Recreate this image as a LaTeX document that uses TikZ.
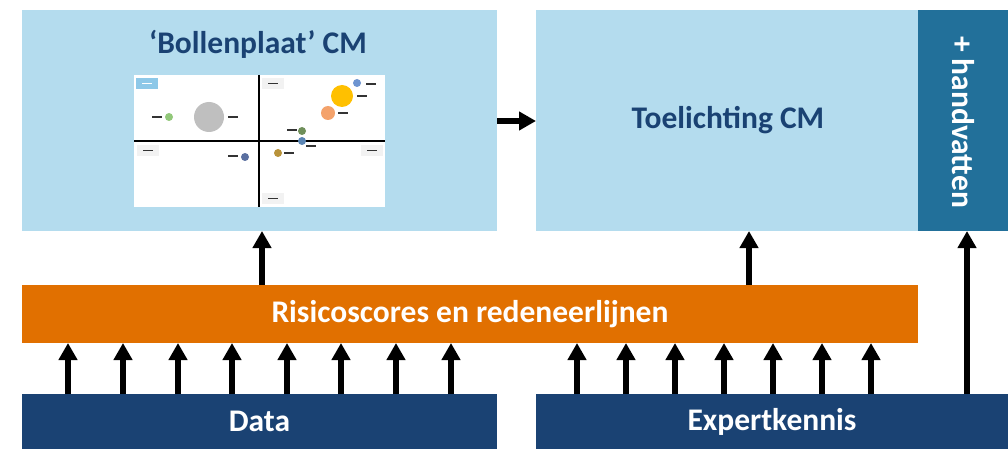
\documentclass[tikz,border=0pt]{standalone}
\usepackage{fontspec}
\setmainfont{Carlito}
\usetikzlibrary{arrows.meta}
\definecolor{lichtblauw}{HTML}{B4DCEE}
\definecolor{donkerblauw}{HTML}{1A4273}
\definecolor{petrol}{HTML}{22709A}
\definecolor{oranje}{HTML}{E17000}
\definecolor{legenda}{HTML}{8DC8E8}
\definecolor{grijs}{HTML}{F2F2F2}
\begin{document}
\begin{tikzpicture}[x=1pt,y=-1pt,line join=round,
 blok/.style={anchor=north west,inner sep=0pt,outer sep=0pt,font=\fontsize{31.5}{36}\selectfont\bfseries},
 pijl/.style={-{Triangle[width=18pt,length=17pt]},line width=5.5pt},
 streep/.style={line width=1.6pt,draw=black!80}]
 \def \xmin{0}\def \xmax{1008}\def \ymin{0}\def \ymax{449}
 \useasboundingbox[fill=white] (\xmin,\ymin) rectangle (\xmax,\ymax);
 \node[blok,fill=lichtblauw,minimum width=475pt,minimum height=221pt] (cm) at (22,10) {};
 \node[blok,fill=lichtblauw,minimum width=382pt,minimum height=221pt] (toel) at (536,10) {};
 \node[blok,anchor=center,text=donkerblauw] (toeltekst) at (728,120) {Toelichting CM};
 \node[blok,fill=petrol,minimum width=90pt,minimum height=221pt] (hand) at (918,10) {};
 \node[blok,anchor=center,text=white,rotate=-90] (handtekst) at (963,122) {+ handvatten};
 \node[blok,anchor=center,text=donkerblauw] (titel) at (258,44) {‘Bollenplaat’ CM};
 \node[blok,fill=oranje,minimum width=896pt,minimum height=58pt,text=white] (risico) at (22,285) {Risicoscores en redeneerlijnen};
 \node[blok,fill=donkerblauw,minimum width=475pt,minimum height=55pt,text=white] (data) at (22,394) {Data};
 \node[blok,fill=donkerblauw,minimum width=472pt,minimum height=55pt,text=white] (expert) at (536,394) {Expertkennis};
 \node[blok,fill=white,minimum width=251pt,minimum height=132pt] (plot) at (134,75) {};
 \draw[line width=1.6pt] (plot.north -| 259,0) -- (plot.south -| 259,0) (plot.west |- 0,141) -- (plot.east |- 0,141);
 \fill[legenda] (136,78) rectangle ++(22,11);
 \draw[line width=1.6pt,white] (142,83.5) -- ++(10,0);
 \foreach \x/\y in {262/78,137/145,361/145,262/193}
  {\fill[grijs] (\x,\y) rectangle ++(22,11);
   \draw[streep] (\x+6,\y+5.5) -- ++(10,0);}
 \foreach \x/\y/\r/\c in {169/117/4/92C87A,209/117/15/BFBFBF,245/157/4/5A6FA0,357/83/4/6E94D0,342/96/11/FFC000,328/113/7/F4A26B,302/131/4/6F8F5A,302/141/4/5B86B5,278/153/4/B8923A}
  {\definecolor{bol}{HTML}{\c}\fill[bol] (\x,\y) circle (\r pt);}
 \foreach \x/\y in {152/117,228/117,228/156,366/84,357/96,338/113,287/130,306/146,284/153}
  \draw[streep] (\x,\y) -- ++(10,0);
 \foreach \x in {68,123,178,232,287,341,396,451}
  \draw[pijl] (data.north -| \x,0) -- (risico.south -| \x,0);
 \foreach \x in {577,626,675,724,773,822,871}
  \draw[pijl] (expert.north -| \x,0) -- (risico.south -| \x,0);
 \draw[pijl] (risico.north -| 262,0) -- (cm.south -| 262,0);
 \draw[pijl] (risico.north -| 749,0) -- (toel.south -| 749,0);
 \draw[pijl] (expert.north -| 967,0) -- (hand.south -| 967,0);
 \draw[pijl] (cm.east |- 0,121) -- (toel.west |- 0,121);
\end{tikzpicture}
\end{document}
